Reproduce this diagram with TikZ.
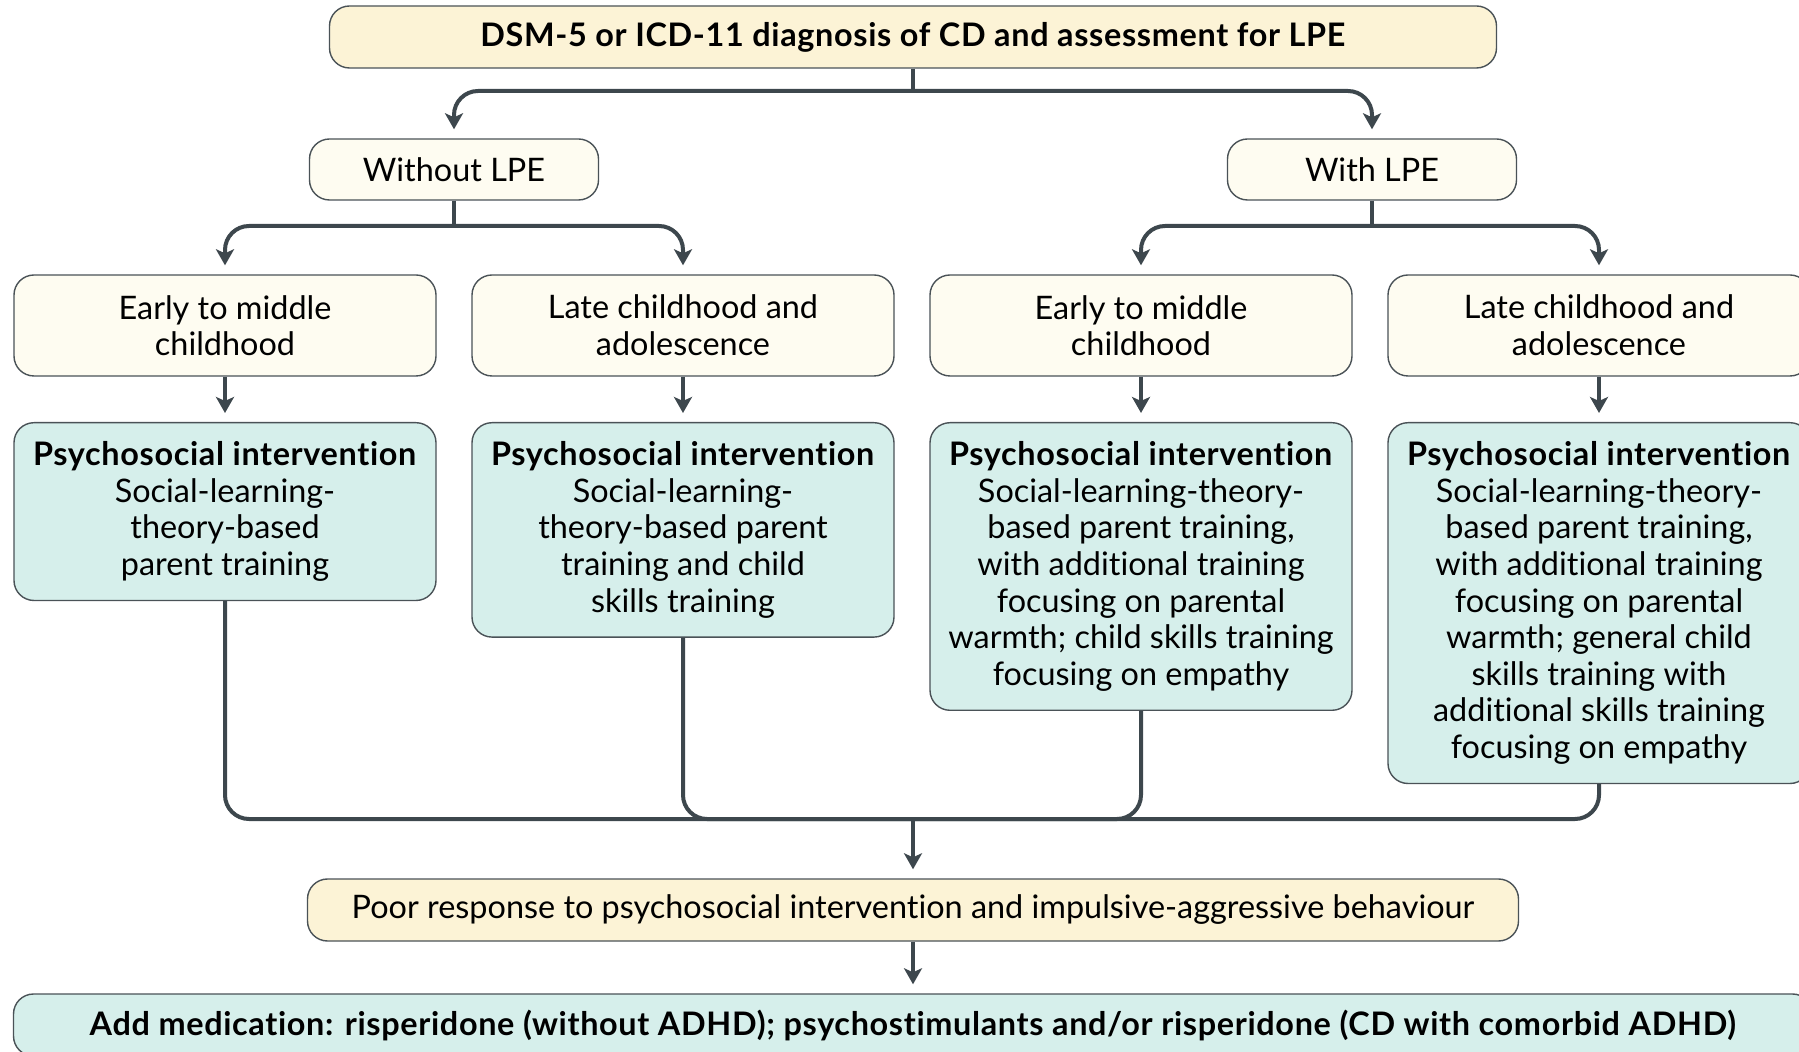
\documentclass[tikz,border=0pt]{standalone}
\usepackage{fontspec}
\setmainfont{Lato}[Ligatures=NoCommon, BoldFeatures={LetterSpace=2}]
\usetikzlibrary{arrows.meta}
\definecolor{cream}{HTML}{FCF3D6}
\definecolor{paper}{HTML}{FEFCF1}
\definecolor{mint}{HTML}{D6EFEB}
\definecolor{rim}{HTML}{4A5257}
\definecolor{wirecol}{HTML}{3D474D}

\begin{document}
\begin{tikzpicture}[
    x=0.5pt, y=-0.5pt,
    every node/.style={font=\fontsize{16.2}{18.3}\selectfont, align=center, inner sep=0pt},
    box/.style={draw=rim, line width=0.7pt, rounded corners=10pt},
    stage/.style={box, fill=cream, minimum height=31pt},
    branch/.style={box, fill=paper},
    agebox/.style={branch, minimum width=211pt, minimum height=50.5pt},
    therapy/.style={box, fill=mint, anchor=north, minimum width=211pt, inner ysep=9.5pt},
    wire/.style={draw=wirecol, line width=2pt, rounded corners=12pt},
    tip/.style={wire, -{Stealth[length=8pt,width=9pt,inset=2pt]}, shorten >=4.5pt}
  ]
  \useasboundingbox (0,0) rectangle (1799,1052);

  % diagnosis and the two groups
  \node[stage, minimum width=583.5pt] (dsm) at (913,37)
    {\textbf{DSM-5 or ICD-11 diagnosis of CD and assessment for LPE}};
  \node[branch, minimum width=144.5pt, minimum height=30.5pt] (nolpe) at (454,169.5) {Without LPE};
  \node[branch, minimum width=144.5pt, minimum height=30.5pt] (lpe) at (1372,169.5) {With LPE};

  % age groups
  \node[agebox] (nolpe-young) at (225,325.5) {Early to middle\\childhood};
  \node[agebox] (nolpe-old) at (683,325.5) {Late childhood and\\adolescence};
  \node[agebox] (lpe-young) at (1141,325.5) {Early to middle\\childhood};
  \node[agebox] (lpe-old) at (1599,325.5) {Late childhood and\\adolescence};

  % interventions, hanging from the same top line
  \node[therapy] (nolpe-young-care) at (225,422)
    {\textbf{Psychosocial intervention}\\Social-learning-\\theory-based\\parent training};
  \node[therapy] (nolpe-old-care) at (683,422)
    {\textbf{Psychosocial intervention}\\Social-learning-\\theory-based parent\\training and child\\skills training};
  \node[therapy] (lpe-young-care) at (1141,422)
    {\textbf{Psychosocial intervention}\\Social-learning-theory-\\based parent training,\\with additional training\\focusing on parental\\warmth; child skills training\\focusing on empathy};
  \node[therapy] (lpe-old-care) at (1599,422)
    {\textbf{Psychosocial intervention}\\Social-learning-theory-\\based parent training,\\with additional training\\focusing on parental\\warmth; general child\\skills training with\\additional skills training\\focusing on empathy};

  % outcome and medication
  \node[stage, minimum width=605.5pt] (poor) at (913,910)
    {Poor response to psychosocial intervention and impulsive-aggressive behaviour};
  \node[box, fill=mint, minimum width=899.5pt, minimum height=31pt] (meds) at (913,1025)
    {\textbf{Add medication: risperidone (without ADHD); psychostimulants and/or risperidone (CD with comorbid ADHD)}};

  % connectors
  \coordinate (split) at (913,91);
  \coordinate (nolpe-split) at (454,226);
  \coordinate (lpe-split) at (1372,226);
  \coordinate (merge) at (913,819);

  \draw[wire] (dsm.south) -- (split);
  \draw[tip] (split) -| (nolpe.north);
  \draw[tip] (split) -| (lpe.north);

  \draw[wire] (nolpe.south) -- (nolpe-split);
  \draw[tip] (nolpe-split) -| (nolpe-young.north);
  \draw[tip] (nolpe-split) -| (nolpe-old.north);
  \draw[wire] (lpe.south) -- (lpe-split);
  \draw[tip] (lpe-split) -| (lpe-young.north);
  \draw[tip] (lpe-split) -| (lpe-old.north);

  \draw[tip] (nolpe-young.south) -- (nolpe-young-care.north);
  \draw[tip] (nolpe-old.south) -- (nolpe-old-care.north);
  \draw[tip] (lpe-young.south) -- (lpe-young-care.north);
  \draw[tip] (lpe-old.south) -- (lpe-old-care.north);

  \draw[wire] (nolpe-young-care.south) |- (merge);
  \draw[wire] (nolpe-old-care.south) |- (merge);
  \draw[wire] (lpe-young-care.south) |- (merge);
  \draw[wire] (lpe-old-care.south) |- (merge);
  \draw[tip] (merge) -- (poor.north);
  \draw[tip] (poor.south) -- (meds.north);
\end{tikzpicture}
\end{document}
